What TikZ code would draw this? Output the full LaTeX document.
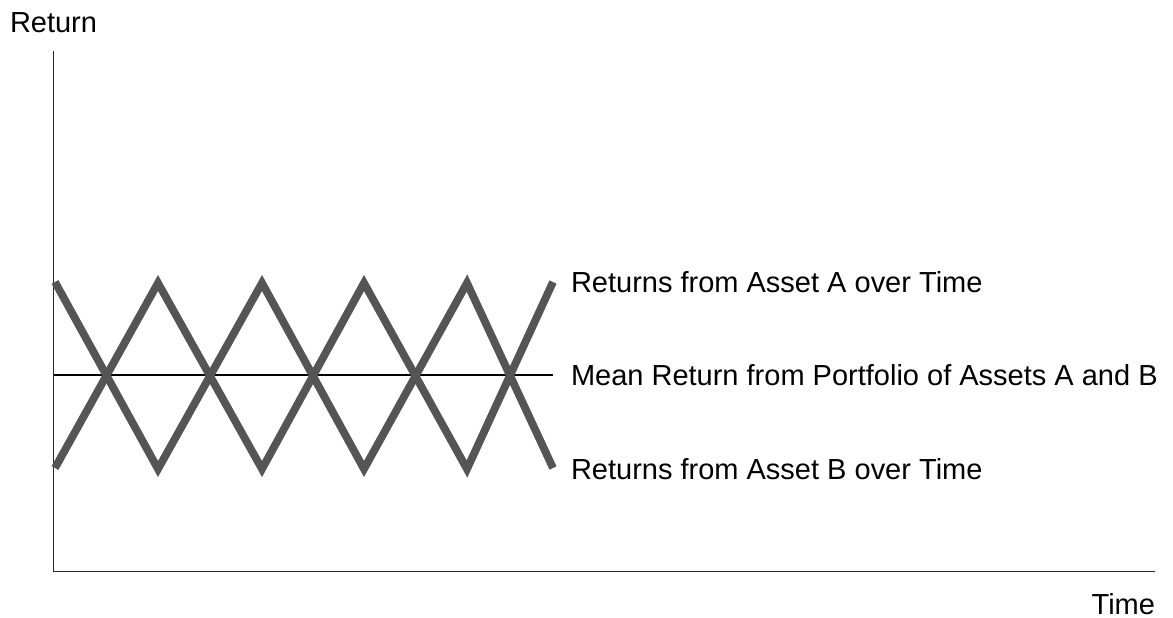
\documentclass[tikz,border=0pt]{standalone}
\usepackage{fontspec}
\setmainfont{Liberation Sans}
\definecolor{zig}{RGB}{85,85,85}
\begin{document}
\begin{tikzpicture}[x=1pt,y=-1pt,
  lbl/.style={inner sep=0pt,outer sep=0pt,font=\fontsize{29}{34}\selectfont,text=black},
  axisline/.style={line width=1.6pt,draw=black!85},
  meanline/.style={line width=1.3pt,draw=black},
  zigline/.style={line width=7.8pt,draw=zig,line join=miter,line cap=butt}]
\useasboundingbox (0,0) rectangle (1173,618);
\coordinate (otop) at (53.5,51);
\coordinate (orig) at (53.5,571.5);
\coordinate (xend) at (1155,571.5);
\coordinate (m0) at (53.5,375);
\coordinate (m1) at (553,375);
% axes
\draw[axisline] (otop) -- (orig) -- (xend);
% mean line
\draw[meanline] (m0) -- (m1);
% zigzags
\draw[zigline] (55,282) -- (158,469) -- (262,283) -- (364,469) -- (467,283) -- (553,468);
\draw[zigline] (55,468) -- (158,283) -- (262,469) -- (364,283) -- (467,469) -- (553,282);
% labels
\node[lbl,anchor=base west] (ret) at (10,33) {Return};
\node[lbl,anchor=base east] (time) at (1155,614) {Time};
\node[lbl,anchor=base west] (la) at (571,292) {Returns from Asset A over Time};
\node[lbl,anchor=base west] (lm) at (571,385) {Mean Return from Portfolio of Assets A and B};
\node[lbl,anchor=base west] (lb) at (571,479) {Returns from Asset B over Time};
\end{tikzpicture}
\end{document}
